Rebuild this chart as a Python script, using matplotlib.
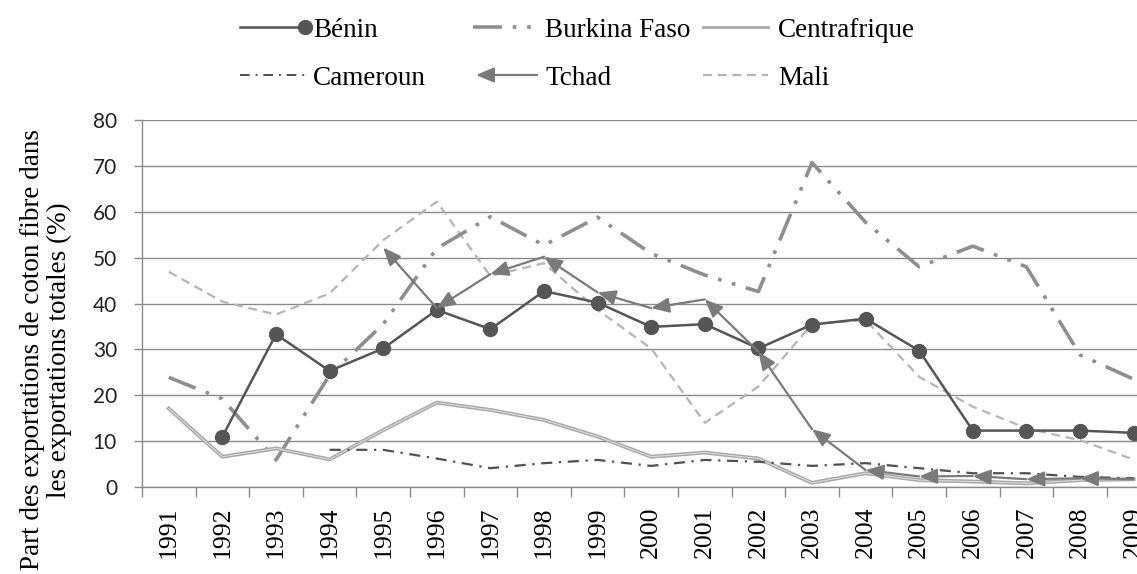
import numpy as np
import matplotlib
matplotlib.use("Agg")
import matplotlib.pyplot as plt
from matplotlib.lines import Line2D
from matplotlib.patches import FancyArrowPatch

nan = np.nan
years = [str(y) for y in range(1991, 2010)]
benin = [nan, 11.0, 33.3, 25.3, 30.2, 38.6, 34.4, 42.7, 40.2, 34.9, 35.5, 30.2, 35.4, 36.7, 29.7, 12.3, 12.3, 12.3, 11.8]
burkina = [23.9, 19.2, 5.9, 24.4, 35.5, 52.0, 58.9, 52.7, 58.8, 50.9, 46.2, 42.6, 70.7, 57.7, 48.0, 52.5, 48.0, 28.8, 23.5]
centrafrique = [17.1, 6.6, 8.4, 6.0, 12.4, 18.4, 16.8, 14.6, 11.0, 6.6, 7.5, 6.2, 0.9, 3.0, 1.5, 1.2, 0.8, 1.5, 1.7]
cameroun = [nan, nan, nan, 8.1, 8.1, 6.2, 4.1, 5.2, 5.9, 4.6, 5.9, 5.5, 4.6, 5.2, 4.1, 3.0, 3.0, 2.2, 1.9]
tchad = [nan, nan, nan, nan, 52.2, 39.0, 46.4, 50.2, 42.4, 39.0, 40.9, 29.5, 12.6, 3.7, 2.3, 2.4, 1.7, 1.9, 1.7]
mali = [46.9, 40.4, 37.6, 42.2, 53.8, 62.2, 46.0, 48.8, 38.6, 30.2, 14.0, 21.9, 35.5, 36.4, 24.0, 17.5, 12.8, 10.2, 6.0]

labels = ["Bénin", "Burkina Faso", "Centrafrique", "Cameroun", "Tchad", "Mali"]
ylabel = "Part des exportations de coton fibre dans\nles exportations totales (%)"

SERIF = "Liberation Serif"
SANS = "Lato"

c_benin = "#555555"
c_burk = "#8e8e8e"
c_centr = "#a8a8a8"
c_centr_in = "#e0e0e0"
c_cam = "#505050"
c_tchad = "#7a7a7a"
c_mali = "#b4b4b4"
c_grid = "#8a8a8a"

burk_ls = (0, (8, 3, 1, 3, 1, 3))
cam_ls = (0, (5, 3, 1, 3))
mali_ls = (0, (4, 2.6))
arrow_style = "-|>,head_length=0.9,head_width=0.38"

W, H = 1137, 574
fig = plt.figure(figsize=(W / 100, H / 100), dpi=100)
ax = fig.add_axes([142 / W, 1 - 487 / H, 1018.4 / W, 367 / H])

x = np.arange(len(years))

ax.set_ylim(0, 80)
ax.set_xlim(-0.5, len(years) - 0.5)
ax.set_yticks(np.arange(0, 81, 10))
ax.yaxis.grid(True, color=c_grid, lw=1.0)
ax.set_axisbelow(True)

# Series
ax.plot(x, mali, color=c_mali, lw=1.6, linestyle=mali_ls, zorder=3)
ax.plot(x, burkina, color=c_burk, lw=2.6, linestyle=burk_ls,
        dash_capstyle="butt", zorder=3)
ax.plot(x, centrafrique, color=c_centr, lw=2.8, zorder=3)
ax.plot(x, centrafrique, color=c_centr_in, lw=0.7, zorder=3)
ax.plot(x, cameroun, color=c_cam, lw=1.6, linestyle=cam_ls, zorder=3)
ax.plot(x, benin, color=c_benin, lw=1.8, marker="o", ms=10, zorder=4)

tx = [xi for xi, v in zip(x, tchad) if not np.isnan(v)]
ty = [v for v in tchad if not np.isnan(v)]
for i in range(len(tx) - 1):
    ax.annotate("", xy=(tx[i], ty[i]), xytext=(tx[i + 1], ty[i + 1]),
                arrowprops=dict(arrowstyle=arrow_style,
                                color=c_tchad, lw=1.6, shrinkA=0, shrinkB=0,
                                mutation_scale=12), zorder=5)

# Axes styling
for s in ["top", "right"]:
    ax.spines[s].set_visible(False)
ax.spines["left"].set_color(c_grid)
ax.spines["bottom"].set_color(c_grid)
ax.spines["left"].set_linewidth(1.0)
ax.spines["bottom"].set_linewidth(1.0)

ax.set_xticks(x)
ax.set_xticklabels(years, rotation=90, fontsize=18.5, family=SERIF, color="black")
ax.tick_params(axis="x", length=0, pad=14)
ax.set_xticks(np.arange(-0.5, len(years), 1), minor=True)
ax.tick_params(axis="x", which="minor", length=7, color=c_grid, width=1.0)
ax.tick_params(axis="y", length=6, color=c_grid, width=1.0, pad=12,
               labelsize=15, labelcolor="#222222")
for t in ax.get_yticklabels():
    t.set_family(SANS)

fig.text(46 / W, 1 - 350 / H, ylabel, rotation=90, ha="center", va="center",
         multialignment="center", fontsize=19.5, family=SERIF, linespacing=1.12)

# Legend (manual)
def fx(px):
    return px / W

def fy(py):
    return 1 - py / H

r1, r2 = 27, 75
fs_leg = 19.5
fig.add_artist(Line2D([fx(240), fx(305)], [fy(r1), fy(r1)], color=c_benin, lw=1.8,
                      marker="o", ms=10, markevery=[1], transform=fig.transFigure))
fig.add_artist(Line2D([fx(473), fx(533)], [fy(r1), fy(r1)], color=c_burk, lw=2.6,
                      linestyle=burk_ls, dash_capstyle="butt",
                      transform=fig.transFigure))
fig.add_artist(Line2D([fx(703), fx(768)], [fy(r1), fy(r1)], color=c_centr, lw=2.0,
                      transform=fig.transFigure))
fig.add_artist(Line2D([fx(240), fx(305)], [fy(r2), fy(r2)], color=c_cam, lw=1.4,
                      linestyle=cam_ls, transform=fig.transFigure))
fig.add_artist(FancyArrowPatch((fx(537), fy(r2)), (fx(476), fy(r2)),
                               arrowstyle=arrow_style,
                               mutation_scale=12, color=c_tchad, lw=1.6,
                               shrinkA=0, shrinkB=0, transform=fig.transFigure))
fig.add_artist(Line2D([fx(703), fx(768)], [fy(r2), fy(r2)], color=c_mali, lw=1.6,
                      linestyle=mali_ls, transform=fig.transFigure))

text_pos = [(313, r1), (545, r1), (778, r1), (313, r2), (545, r2), (778, r2)]
for lab, (px, py) in zip(labels, text_pos):
    fig.text(fx(px), fy(py + 10), lab, fontsize=fs_leg, family=SERIF,
             ha="left", va="baseline", color="black")

fig.savefig("out.png", dpi=100)
